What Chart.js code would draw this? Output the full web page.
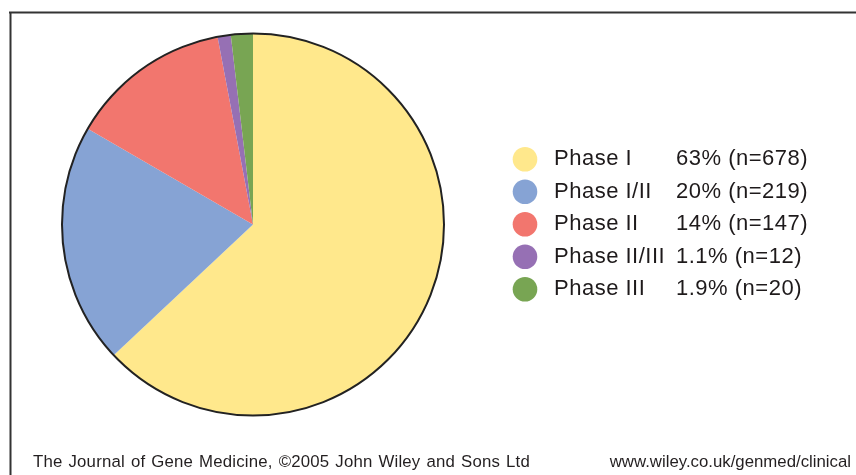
<!DOCTYPE html>
<html>
<head>
<meta charset="utf-8">
<script src="https://cdn.jsdelivr.net/npm/chart.js@4/dist/chart.umd.min.js"></script>
<style>
  html, body { margin: 0; padding: 0; background: #fff; }
  #wrap { position: relative; width: 856px; height: 475px; }
</style>
</head>
<body>
<div id="wrap"><canvas id="phaseChart" width="856" height="475"></canvas></div>
<script>
const phases = ['Phase I', 'Phase I/II', 'Phase II', 'Phase II/III', 'Phase III'];
const counts = [678, 219, 147, 12, 20];
const percents = ['63%', '20%', '14%', '1.1%', '1.9%'];
const colors = ['#FFE88C', '#86A3D4', '#F2766E', '#9670B4', '#78A553'];
const footerLeft = 'The Journal of Gene Medicine, \u00A92005 John Wiley and Sons Ltd';
const footerRight = 'www.wiley.co.uk/genmed/clinical';

const FONT = '"Liberation Sans", Arial, Helvetica, sans-serif';

// outline round the pie, the frame lines, the legend and the footer
const extras = {
    id: 'extras',
    beforeDraw(chart) {
        const c = chart.ctx;
        c.save();
        c.strokeStyle = '#333';
        c.lineWidth = 2;
        c.beginPath();
        c.moveTo(9, 12.5);
        c.lineTo(856, 12.5);
        c.moveTo(10.5, 12);
        c.lineTo(10.5, 475);
        c.stroke();
        c.restore();
    },
    afterDatasetsDraw(chart) {
        const c = chart.ctx;
        const arc = chart.getDatasetMeta(0).data[0];
        c.save();
        c.strokeStyle = '#222';
        c.lineWidth = 2;
        c.beginPath();
        c.arc(arc.x, arc.y, arc.outerRadius, 0, Math.PI * 2);
        c.stroke();

        // legend
        c.font = '22px ' + FONT;
        c.letterSpacing = '0.5px';
        c.textBaseline = 'alphabetic';
        c.textAlign = 'left';
        phases.forEach((p, i) => {
            const cy = 159.3 + i * 32.5;
            c.fillStyle = colors[i];
            c.beginPath();
            c.arc(525, cy, 12.3, 0, Math.PI * 2);
            c.fill();
            c.fillStyle = '#1e1a1b';
            c.fillText(p, 554, cy + 6);
            c.fillText(percents[i] + ' (n=' + counts[i] + ')', 676, cy + 6);
        });

        // footer
        c.font = '16.8px ' + FONT;
        c.fillStyle = '#231f20';
        c.letterSpacing = '0.2px';
        c.wordSpacing = '1.1px';
        c.fillText(footerLeft, 33, 467);
        c.letterSpacing = '0px';
        c.wordSpacing = '0px';
        c.textAlign = 'right';
        c.fillText(footerRight, 851, 467);
        c.restore();
    }
};

const ctx = document.getElementById('phaseChart').getContext('2d');
const phaseChart = new Chart(ctx, {
    type: 'pie',
    data: {
        labels: phases,
        datasets: [{
            data: counts,
            backgroundColor: colors,
            borderWidth: 0
        }]
    },
    options: {
        responsive: false,
        animation: false,
        layout: {
            padding: { left: 62, top: 33.5, right: 412, bottom: 59.5 }
        },
        plugins: {
            legend: { display: false },
            tooltip: { enabled: false }
        }
    },
    plugins: [extras]
});
</script>
</body>
</html>
